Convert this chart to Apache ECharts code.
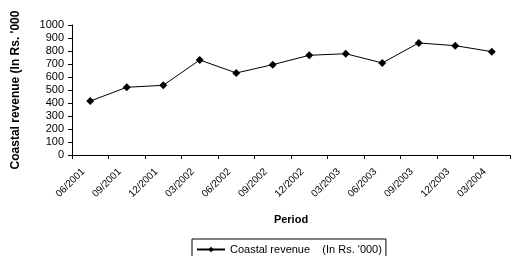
<!DOCTYPE html>
<html><head><meta charset="utf-8">
<script src="https://cdn.jsdelivr.net/npm/echarts@6/dist/echarts.min.js"></script>
<style>html,body{margin:0;padding:0;background:#fff}#c{width:515px;height:256px}</style>
</head><body><div id="c"></div>
<script>
const categories = ['06/2001','09/2001','12/2001','03/2002','06/2002','09/2002','12/2002','03/2003','06/2003','09/2003','12/2003','03/2004'];
const revenue = [415, 521, 536, 731, 631, 695, 767, 779, 708, 862, 841, 795];
const seriesName = "Coastal revenue    (In Rs. '000)";
const yTitle = "Coastal revenue (In Rs. '000";
const xTitle = 'Period';

const chart = echarts.init(document.getElementById('c'), null, {renderer:'canvas'});
const font = 'Liberation Sans, Arial, sans-serif';
chart.setOption({
  animation: false,
  backgroundColor: '#fff',
  grid: {left: 72, right: 5, top: 25, bottom: 101, containLabel: false},
  legend: {
    left: 192, top: 239,
    padding: [5, 4, 5, 4],
    borderColor: '#000', borderWidth: 1, borderRadius: 0,
    itemWidth: 28, itemHeight: 7, itemGap: 4,
    textStyle: {fontFamily: font, fontSize: 11, color: '#000'},
    data: [seriesName]
  },
  xAxis: {
    type: 'category', data: categories, boundaryGap: true,
    name: xTitle, nameLocation: 'middle', nameGap: 59,
    nameTextStyle: {fontFamily: font, fontSize: 11, fontWeight: 'bold', color: '#000'},
    axisLine: {lineStyle: {color: '#000', width: 1}},
    axisTick: {show: true, alignWithLabel: false, length: 4, lineStyle: {color: '#000'}},
    axisLabel: {rotate: 45, fontFamily: font, fontSize: 10, color: '#000', margin: 8, padding: [0, 10, 0, 0], interval: 0},
    splitLine: {show: false}
  },
  yAxis: {
    type: 'value', min: 0, max: 1000, interval: 100,
    name: yTitle, nameLocation: 'middle', nameGap: 50, nameRotate: 90,
    nameTextStyle: {fontFamily: font, fontSize: 12, fontWeight: 'bold', color: '#000'},
    axisLine: {show: true, lineStyle: {color: '#000', width: 1}},
    axisTick: {show: true, length: 4, lineStyle: {color: '#000'}},
    axisLabel: {fontFamily: font, fontSize: 11, color: '#000', margin: 8, formatter: v => String(v)},
    splitLine: {show: false}
  },
  series: [{
    name: seriesName, type: 'line', data: revenue,
    symbol: 'diamond', symbolSize: 8,
    itemStyle: {color: '#000'},
    lineStyle: {color: '#000', width: 1}
  }]
});
</script></body></html>
